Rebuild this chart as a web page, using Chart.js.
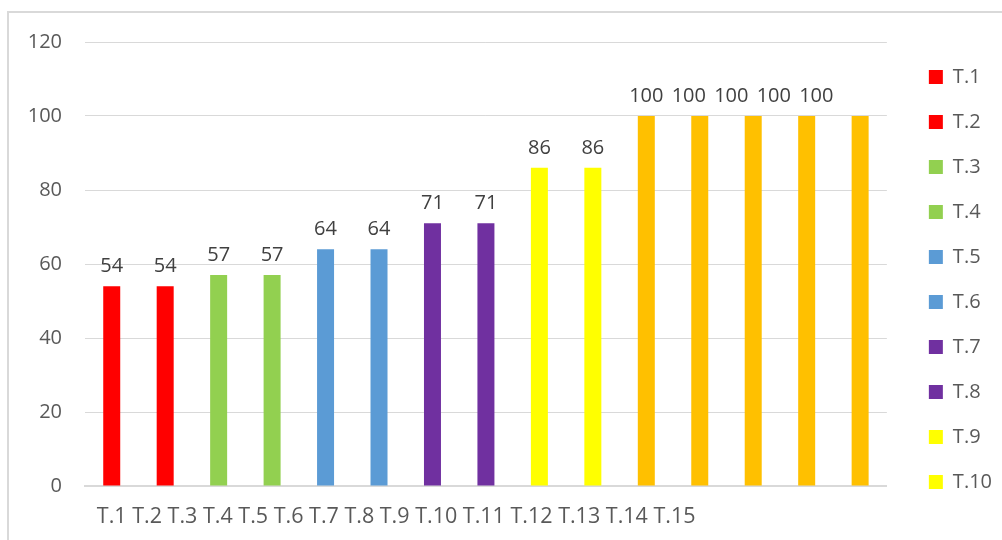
<!DOCTYPE html>
<html><head><meta charset="utf-8">
<script src="https://cdn.jsdelivr.net/npm/chart.js@4"></script>
<style>
html,body{margin:0;padding:0;background:#fff;}
#wrap{position:relative;width:1002px;height:540px;overflow:hidden;}
#frame{position:absolute;left:7px;top:11px;width:1100px;height:600px;border-left:2px solid #d9d9d9;border-top:2px solid #d9d9d9;}
canvas{position:absolute;left:0;top:0;}
</style></head><body>
<div id="wrap"><div id="frame"></div><canvas id="c" width="1002" height="540"></canvas></div>
<script>
const categories = ['T.1','T.2','T.3','T.4','T.5','T.6','T.7','T.8','T.9','T.10','T.11','T.12','T.13','T.14','T.15'];
const values = [54,54,57,57,64,64,71,71,86,86,100,100,100,100,100];
const barColors = ['#FF0000','#FF0000','#92D050','#92D050','#5B9BD5','#5B9BD5','#7030A0','#7030A0','#FFFF00','#FFFF00','#FFC000','#FFC000','#FFC000','#FFC000','#FFC000'];
const legendLabels = categories.slice(0, 10);
const yTicks = [0, 20, 40, 60, 80, 100, 120];

const FONT = '"Open Sans", "DejaVu Sans", sans-serif';

const labelPlugin = {
  id: 'flowLabels',
  afterDatasetsDraw(chart) {
    const ctx = chart.ctx;
    const meta = chart.getDatasetMeta(0);
    ctx.save();
    ctx.font = '20px ' + FONT;
    ctx.fillStyle = '#404040';
    ctx.textBaseline = 'alphabetic';
    const maxV = Math.max(...values);
    let flowX = null;
    meta.data.forEach((bar, i) => {
      const txt = String(values[i]);
      const y = bar.y - 14;
      if (values[i] === maxV) {
        if (flowX === null) flowX = bar.x - ctx.measureText(txt).width / 2;
        ctx.textAlign = 'left';
        ctx.fillText(txt, flowX, y);
        flowX += ctx.measureText(txt + ' ').width + 3;
      } else {
        ctx.textAlign = 'center';
        ctx.fillText(txt, bar.x, y);
      }
    });
    ctx.font = '21.5px ' + FONT;
    ctx.fillStyle = '#595959';
    ctx.textAlign = 'left';
    const xs = chart.scales.x;
    const x0 = xs.getPixelForValue(0) - ctx.measureText(categories[0]).width / 2;
    ctx.fillText(categories.join(' '), x0, chart.chartArea.bottom + 37);
    ctx.restore();
  }
};

new Chart(document.getElementById('c'), {
  type: 'bar',
  data: {
    labels: categories,
    datasets: [{
      data: values,
      backgroundColor: barColors,
      borderWidth: 0,
      barPercentage: 0.318,
      categoryPercentage: 1.0
    }]
  },
  options: {
    responsive: false,
    animation: false,
    devicePixelRatio: 1,
    layout: { padding: { top: 42, left: 0, right: 0, bottom: 10 } },
    plugins: {
      tooltip: { enabled: false },
      legend: {
        position: 'right',
        align: 'start',
        onClick: null,
        labels: {
          boxWidth: 14,
          boxHeight: 14,
          padding: 25,
          color: '#595959',
          font: { family: FONT, size: 20 },
          generateLabels: () => legendLabels.map((t, i) => ({
            text: t, fillStyle: barColors[i], strokeStyle: barColors[i], lineWidth: 0, hidden: false, index: i, fontColor: '#595959'
          }))
        }
      }
    },
    scales: {
      x: {
        type: 'category',
        offset: true,
        grid: { display: false },
        ticks: { display: false },
        border: { display: true, color: '#d9d9d9', width: 2 },
        afterFit: s => { s.height = 44; }
      },
      y: {
        min: 0, max: 120,
        afterBuildTicks: s => { s.ticks = yTicks.map(v => ({ value: v })); },
        grid: { color: '#d9d9d9', lineWidth: 1, drawTicks: false },
        border: { display: false },
        ticks: { color: '#595959', padding: 23, font: { family: FONT, size: 20 } },
        afterFit: s => { s.width = 85; }
      },
      gap: {
        type: 'linear',
        position: 'right',
        display: true,
        grid: { display: false },
        ticks: { display: false },
        border: { display: false },
        afterFit: s => { s.width = 17; }
      }
    }
  },
  plugins: [labelPlugin]
});
</script>
</body></html>
